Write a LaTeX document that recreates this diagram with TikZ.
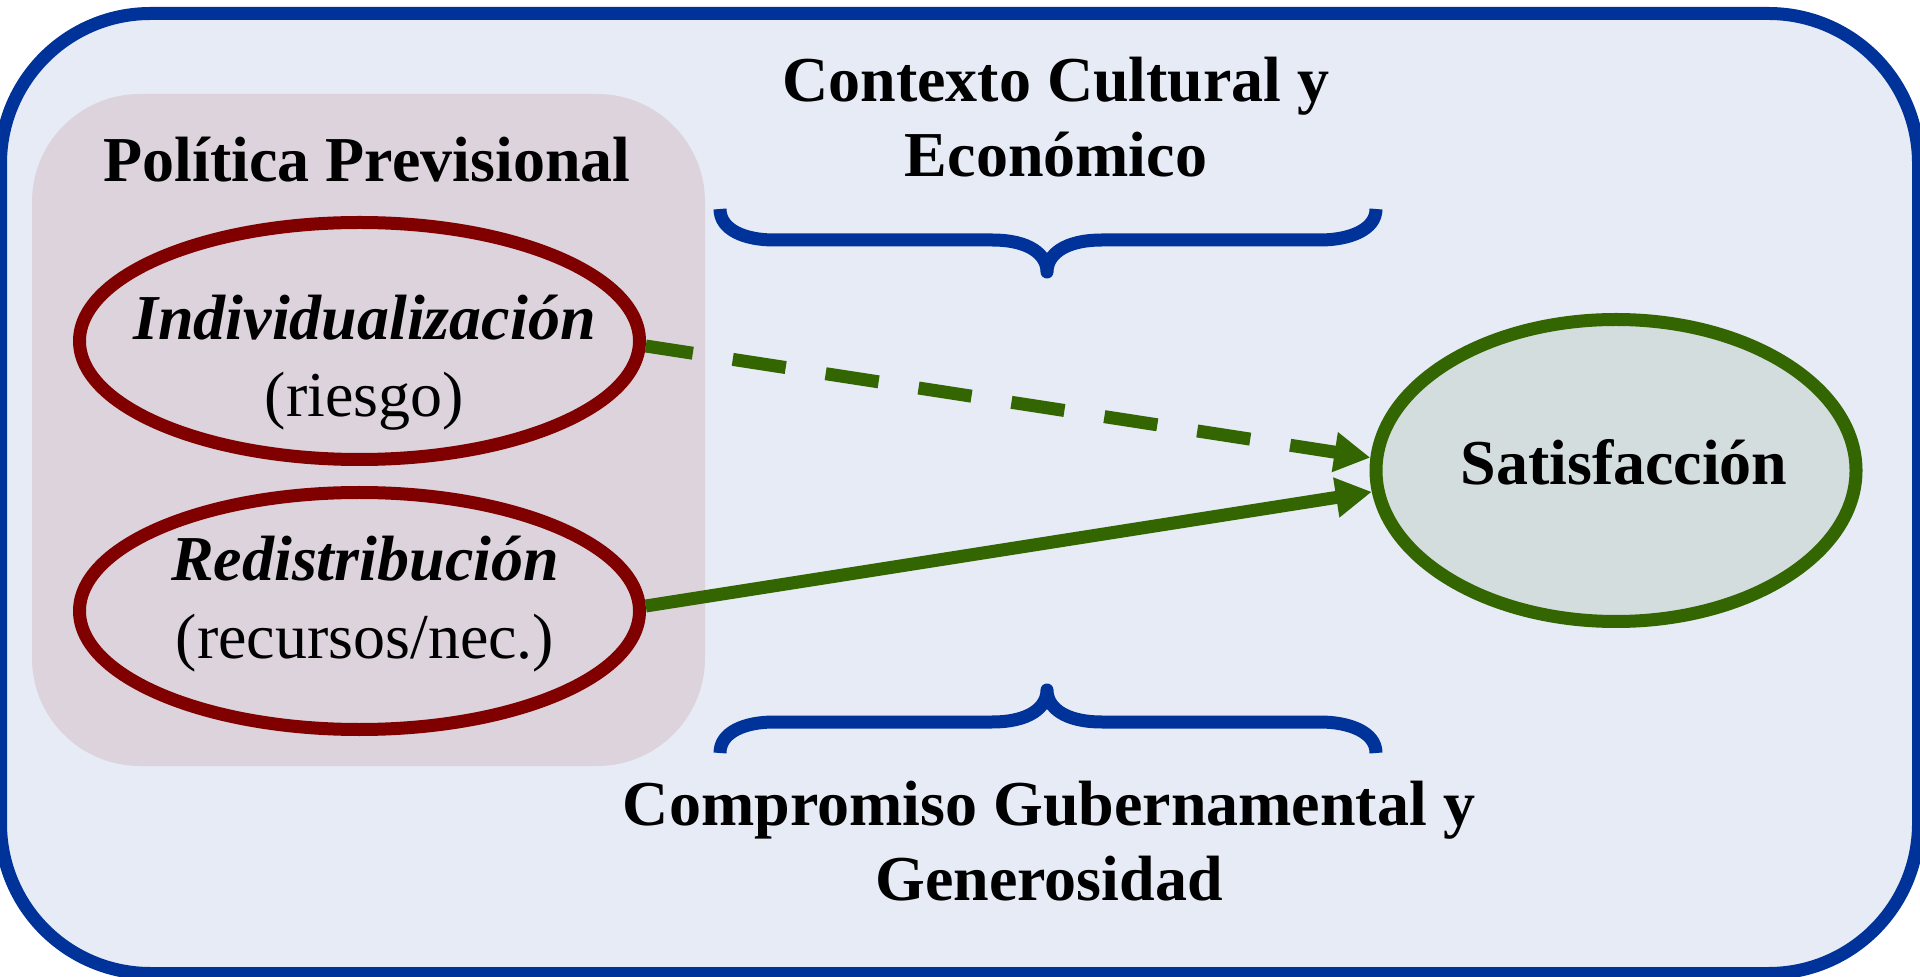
\documentclass[tikz,border=0pt]{standalone}
\usepackage{fontspec}
\setmainfont{Liberation Serif}
\usetikzlibrary{shapes.geometric,arrows.meta}
\definecolor{blueline}{RGB}{0,51,153}
\definecolor{redline}{RGB}{128,0,0}
\definecolor{greenline}{RGB}{51,102,0}
\definecolor{outerfill}{RGB}{230,235,245}
\definecolor{pinkfill}{RGB}{220,211,221}
\definecolor{satfill}{RGB}{212,221,221}
\begin{document}
\begin{tikzpicture}[x=0.5pt,y=-0.5pt,
  bigtext/.style={font=\fontsize{32}{37.5}\selectfont, inner sep=0pt, align=center, anchor=base},
  redell/.style={ellipse, draw=redline, line width=6.5pt, minimum width=280pt, minimum height=118.5pt, inner sep=0pt},
  arr/.style={draw=greenline, line width=6.5pt, -{Triangle[length=18pt,width=19pt]}},
  bracestyle/.style={draw=blueline, line width=6.5pt, line join=round, line cap=butt}]
\useasboundingbox (0,0) rectangle (1920,977);
% outer frame
\node[rectangle, rounded corners=75pt, draw=blueline, fill=outerfill, line width=6.5pt,
      minimum width=959pt, minimum height=480pt, inner sep=0pt] (frame) at (959.5,493.5) {};
% policy box
\node[rectangle, rounded corners=54pt, fill=pinkfill, minimum width=336.5pt, minimum height=336pt,
      inner sep=0pt] (policy) at (368.5,430) {};
% ellipses
\node[redell] (ind) at (359.5,341) {};
\node[redell] (red) at (359.5,611) {};
\node[ellipse, draw=greenline, fill=satfill, line width=6.5pt, minimum width=240pt, minimum height=151pt,
      inner sep=0pt] (sat) at (1616,470.5) {};
% texts (anchor base = baseline of the last line)
\node[bigtext, font=\fontsize{32}{37.5}\selectfont\bfseries] (poltxt) at (367,182) {Política Previsional};
\node[bigtext, font=\fontsize{32}{37.5}\selectfont\bfseries] (ctxtxt) at (1056,177) {Contexto Cultural y\\Económico};
\node[bigtext, font=\fontsize{32}{37.5}\selectfont\bfseries] (comptxt) at (1049,900) {Compromiso Gubernamental y\\Generosidad};
\node[bigtext, font=\fontsize{32}{38.5}\selectfont] (indtxt) at (364.5,417) {\textbf{\textit{Individualización}}\\(riesgo)};
\node[bigtext, font=\fontsize{32}{39}\selectfont] (redtxt) at (365,658) {\textbf{\textit{Redistribución}}\\(recursos/nec.)};
\node[bigtext, font=\fontsize{32}{37.5}\selectfont\bfseries] (sattxt) at (1624,485) {Satisfacción};
% connectors
\draw[arr, dash pattern=on 26.8pt off 20.2pt, dash phase=3pt] (ind.-1.8) -- (sat.177.6);
\draw[arr] (red.1.2) -- (sat.185.3);
% braces
\draw[bracestyle] (720,209) .. controls (720,230) and (745,240) .. (774,240) -- (992,240)
  .. controls (1030,240) and (1047,255) .. (1047,272)
  .. controls (1047,255) and (1064,240) .. (1102,240) -- (1320,240)
  .. controls (1349,240) and (1376,230) .. (1376,209);
\draw[bracestyle] (720,753) .. controls (720,732) and (745,722) .. (774,722) -- (992,722)
  .. controls (1030,722) and (1047,707) .. (1047,690)
  .. controls (1047,707) and (1064,722) .. (1102,722) -- (1320,722)
  .. controls (1349,722) and (1376,732) .. (1376,753);
\end{tikzpicture}
\end{document}
